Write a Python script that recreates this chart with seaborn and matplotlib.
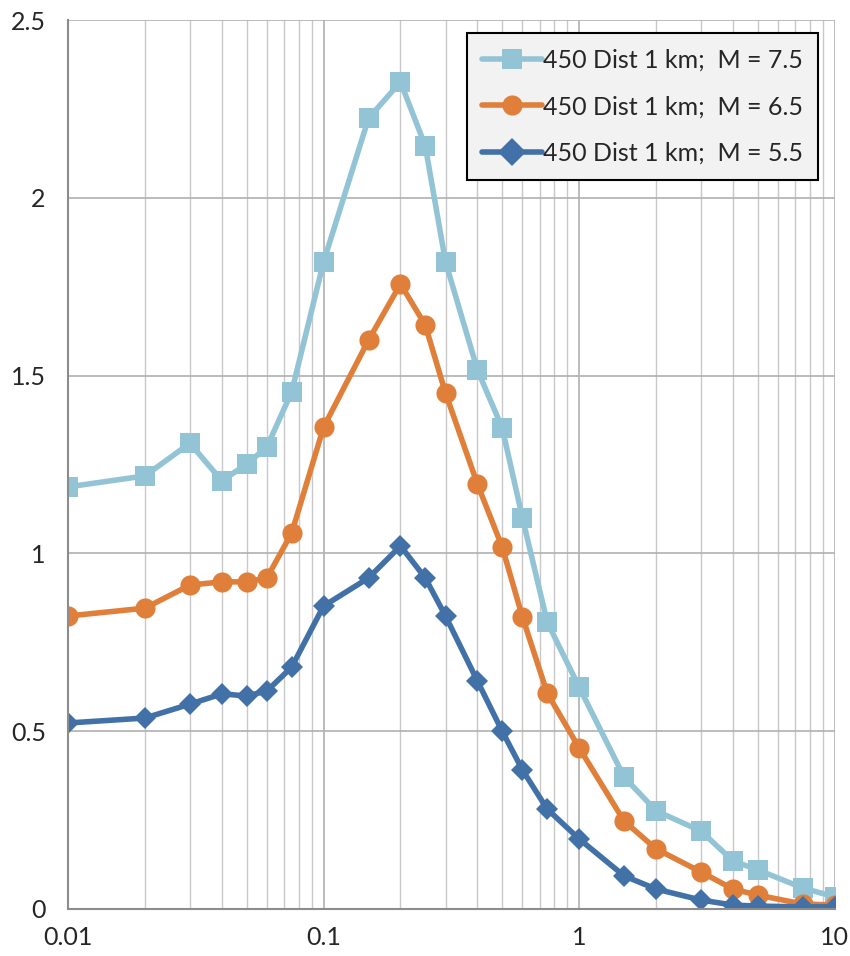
import numpy as np
import pandas as pd
import seaborn as sns
from matplotlib import pyplot as plt
from matplotlib.ticker import LogLocator, FixedLocator, NullFormatter

# periods (s)
periods = [0.01, 0.02, 0.03, 0.04, 0.05, 0.06, 0.075, 0.1, 0.15, 0.2, 0.25, 0.3,
           0.4, 0.5, 0.6, 0.75, 1, 1.5, 2, 3, 4, 5, 7.5, 10]

m75 = [1.187, 1.218, 1.31, 1.204, 1.251, 1.299, 1.454, 1.82, 2.224, 2.326, 2.146, 1.82,
       1.516, 1.353, 1.10, 0.807, 0.624, 0.371, 0.276, 0.219, 0.135, 0.11, 0.059, 0.034]
m65 = [0.824, 0.846, 0.911, 0.92, 0.92, 0.931, 1.057, 1.355, 1.60, 1.758, 1.642, 1.451,
       1.195, 1.018, 0.821, 0.607, 0.453, 0.247, 0.169, 0.104, 0.056, 0.039, 0.014, 0.011]
m55 = [0.523, 0.537, 0.576, 0.605, 0.599, 0.613, 0.68, 0.852, 0.931, 1.021, 0.931, 0.824,
       0.641, 0.5, 0.391, 0.281, 0.197, 0.093, 0.056, 0.025, 0.011, 0.008, 0.006, 0.006]

labels = ['450 Dist 1 km;  M = 7.5', '450 Dist 1 km;  M = 6.5', '450 Dist 1 km;  M = 5.5']
colors = ['#93C4D6', '#E07F3A', '#4271A8']
marks = ['s', 'o', 'D']

df = pd.concat([
    pd.DataFrame({'period': periods, 'sa': vals, 'series': lab})
    for vals, lab in zip([m75, m65, m55], labels)
])

sns.set_style('white')
plt.rcParams['font.family'] = ['Lato', 'DejaVu Sans']

fig = plt.figure(figsize=(8.5, 9.56), dpi=100)
ax = fig.add_axes([0.08, 0.0492, 0.902, 0.9298])

sns.lineplot(data=df, x='period', y='sa', hue='series', style='series',
             hue_order=labels, style_order=labels,
             palette=dict(zip(labels, colors)),
             markers=dict(zip(labels, marks)), dashes=False,
             linewidth=4, markersize=14.5, markeredgewidth=0, ax=ax)
# diamonds look bigger than squares at the same size
for line, mk in zip(ax.get_lines()[:3], marks):
    if mk == 'D':
        line.set_markersize(11.5)

ax.set_xscale('log')
ax.set_xlim(0.01, 10)
ax.set_ylim(0, 2.5)
ax.set_yticks([0, 0.5, 1, 1.5, 2, 2.5])
ax.set_yticklabels(['0', '0.5', '1', '1.5', '2', '2.5'])
ax.xaxis.set_major_locator(FixedLocator([0.01, 0.1, 1, 10]))
ax.set_xticklabels(['0.01', '0.1', '1', '10'])
ax.xaxis.set_minor_locator(LogLocator(base=10, subs=np.arange(2, 10), numticks=20))
ax.xaxis.set_minor_formatter(NullFormatter())

ax.grid(True, which='major', axis='both', color='#B0B0B0', linewidth=1.2)
ax.grid(True, which='minor', axis='x', color='#C8C8C8', linewidth=1.0)
ax.set_axisbelow(True)

for s in ['top', 'right']:
    ax.spines[s].set_visible(False)
for s in ['left', 'bottom']:
    ax.spines[s].set_color('#8C8C8C')
    ax.spines[s].set_linewidth(1.5)

ax.tick_params(axis='x', which='major', direction='out', length=6, width=1.5,
               color='#8C8C8C', labelsize=18, pad=6)
ax.tick_params(axis='x', which='minor', length=0)
ax.tick_params(axis='y', direction='out', length=6, width=1.5,
               color='#8C8C8C', labelsize=18, pad=10)
ax.set_xlabel('')
ax.set_ylabel('')

leg = ax.legend(loc='upper right', bbox_to_anchor=(0.978, 0.985), fontsize=18,
                frameon=True, fancybox=False, handlelength=2.4, handletextpad=0.05,
                labelspacing=0.95, borderpad=0.6, borderaxespad=0)
leg.get_frame().set_facecolor('#F2F2F2')
leg.get_frame().set_edgecolor('black')
leg.get_frame().set_linewidth(1.5)
leg.get_frame().set_alpha(1)

plt.savefig('out.png', dpi=100)
